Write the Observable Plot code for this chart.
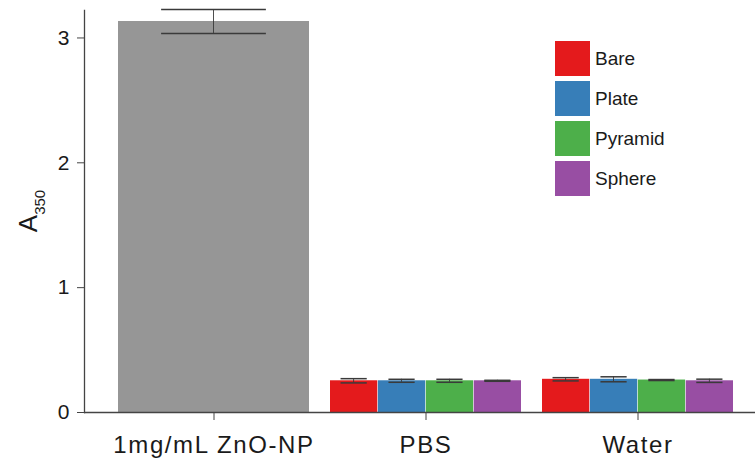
<!DOCTYPE html>
<html>
<head>
<meta charset="utf-8">
<script src="https://cdn.jsdelivr.net/npm/d3@7"></script>
<script src="https://cdn.jsdelivr.net/npm/@observablehq/plot@0.6"></script>
<style>
  html, body { margin: 0; padding: 0; background: #fff; }
  #wrap { position: relative; width: 755px; height: 469px; font-family: "Liberation Sans", Arial, sans-serif; }
  #legend { position: absolute; left: 555px; top: 41px; }
  .item { display: flex; align-items: center; height: 35px; margin-bottom: 5px; }
  .sw { width: 35px; height: 35px; margin-right: 5px; }
  .lab { font-size: 19px; color: #1a1a1a; }
</style>
</head>
<body>
<div id="wrap"><div id="legend"></div></div>
<script>
// ---- data ----
const groups = ["1mg/mL ZnO-NP", "PBS", "Water"];
const series = ["Bare", "Plate", "Pyramid", "Sphere"];
const colors = ["#e41a1c", "#377eb8", "#4daf4a", "#984ea3"];
const znoMean = 3.132;
const znoErr = 0.096;
const pbsMeans = [0.254, 0.254, 0.254, 0.254];
const pbsErr = [0.017, 0.012, 0.012, 0.004];
const waterMeans = [0.266, 0.266, 0.260, 0.254];
const waterErr = [0.013, 0.020, 0.004, 0.013];
const yTicks = [0, 1, 2, 3];

// ---- tables built from the arrays ----
const znoRows = [{group: groups[0], value: znoMean, lo: znoMean - znoErr, hi: znoMean + znoErr}];
const subRows = [];
series.forEach((s, i) => {
  subRows.push({group: "PBS", series: s, idx: i, value: pbsMeans[i], lo: pbsMeans[i] - pbsErr[i], hi: pbsMeans[i] + pbsErr[i]});
  subRows.push({group: "Water", series: s, idx: i, value: waterMeans[i], lo: waterMeans[i] - waterErr[i], hi: waterMeans[i] + waterErr[i]});
});

// ---- layout ----
const W = 755, H = 469;
const mL = 84, mR = 0, inL = 11, pad = 0.1;
const step = (W - mL - mR - inL) / (groups.length + pad);
const bw = step * (1 - pad);
const sub = bw / series.length;
const errW = 1.5;
const errColor = "#3a3a3a";

const marks = [
  Plot.barY(znoRows, {x: "group", y: "value", fill: "#969696"}),
  Plot.barY(znoRows, {x: "group", y1: "lo", y2: "hi", fill: errColor, insetLeft: bw / 2 - errW / 2, insetRight: bw / 2 - errW / 2}),
  Plot.tickY(znoRows, {x: "group", y: "lo", stroke: errColor, strokeWidth: errW, insetLeft: bw * 0.225, insetRight: bw * 0.225}),
  Plot.tickY(znoRows, {x: "group", y: "hi", stroke: errColor, strokeWidth: errW, insetLeft: bw * 0.225, insetRight: bw * 0.225})
];
series.forEach((s, i) => {
  const rows = subRows.filter(d => d.idx === i);
  const l = i * sub, r = (series.length - 1 - i) * sub;
  const capIn = sub * 0.22;
  marks.push(
    Plot.barY(rows, {x: "group", y: "value", fill: colors[i], insetLeft: l, insetRight: r}),
    Plot.barY(rows, {x: "group", y1: "lo", y2: "hi", fill: errColor, insetLeft: l + sub / 2 - errW / 2, insetRight: r + sub / 2 - errW / 2}),
    Plot.tickY(rows, {x: "group", y: "lo", stroke: errColor, strokeWidth: errW, insetLeft: l + capIn, insetRight: r + capIn}),
    Plot.tickY(rows, {x: "group", y: "hi", stroke: errColor, strokeWidth: errW, insetLeft: l + capIn, insetRight: r + capIn})
  );
});
marks.push(
  Plot.ruleY([0], {stroke: "#444", strokeWidth: 1.3}),
  Plot.frame({anchor: "left", stroke: "#444", strokeWidth: 1.3}),
  Plot.axisY({ticks: yTicks, tickFormat: d => String(d), tickSize: 7, tickPadding: 8, fontSize: 21, label: null, stroke: "#444"}),
  Plot.axisX({tickSize: 8, tickPadding: 15, fontSize: 24, label: null, stroke: "#444"})
);

const chart = Plot.plot({
  width: W,
  height: H,
  marginTop: 10,
  marginBottom: 57,
  marginLeft: mL,
  marginRight: mR,
  style: {fontFamily: "'Liberation Sans', Arial, sans-serif", color: "#1a1a1a", background: "#fff"},
  x: {domain: groups, padding: pad, insetLeft: inL, axis: null},
  y: {domain: [0, 3.22], axis: null},
  marks
});

const svg = d3.select(chart);
// slightly wider lettering, as in the reference
svg.selectAll('g[aria-label="x-axis tick label"] text').style("letter-spacing", "1.6px");
svg.selectAll('g[aria-label="y-axis tick label"] text').attr("transform", function () {
  return (this.getAttribute("transform") || "");
});

// y-axis title with subscript
const t = svg.append("text")
  .attr("transform", "translate(37,211) rotate(-90)")
  .attr("text-anchor", "middle")
  .attr("fill", "#1a1a1a")
  .style("font-size", "26px");
t.append("tspan").text("A");
t.append("tspan").attr("dy", 8).style("font-size", "15px").text("350");

const wrap = document.getElementById("wrap");
wrap.insertBefore(chart, wrap.firstChild);

// legend
const legend = d3.select("#legend");
series.forEach((s, i) => {
  const it = legend.append("div").attr("class", "item");
  it.append("div").attr("class", "sw").style("background", colors[i]);
  it.append("div").attr("class", "lab").text(s);
});
</script>
</body>
</html>
